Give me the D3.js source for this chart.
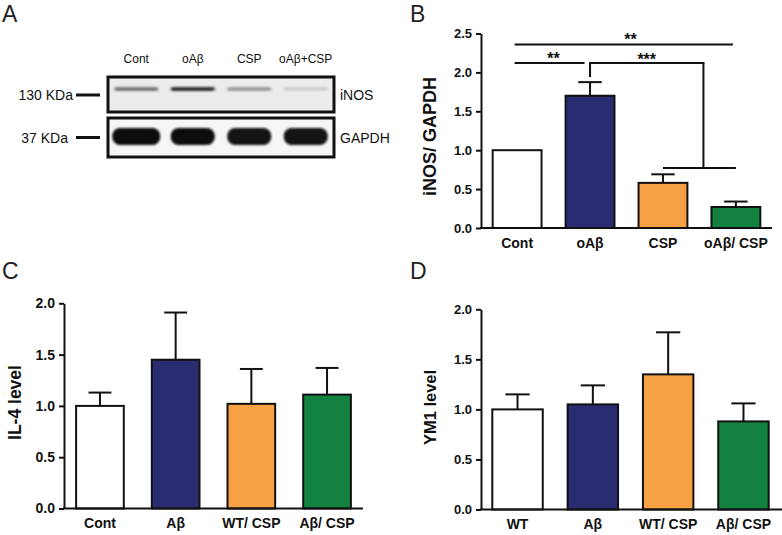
<!DOCTYPE html>
<html>
<head>
<meta charset="utf-8">
<script src="https://cdn.jsdelivr.net/npm/d3@7"></script>
<style>
  html, body { margin: 0; padding: 0; background: #fff; }
  svg { display: block; }
  text { font-family: "Liberation Sans", Arial, sans-serif; fill: #111; }
  .panel-letter { font-family: "Liberation Sans", Arial, sans-serif; font-size: 23px; fill: #222; }
</style>
</head>
<body>
<svg id="chart" width="782" height="535"></svg>
<script>
// ---------------- DATA ----------------
// Panel A (western blot)
const blotLanes = ["Cont", "oAβ", "CSP", "oAβ+CSP"];
const inosIntensity = [0.55, 0.9, 0.38, 0.14];
const gapdhIntensity = [1.0, 1.0, 0.97, 0.97];
const blotMarkers = ["130 KDa", "37 KDa"];
const blotProteins = ["iNOS", "GAPDH"];

// Panel B
const catsB = ["Cont", "oAβ", "CSP", "oAβ/ CSP"];
const meanB = [1.0, 1.70, 0.58, 0.27];
const semB = [0, 0.175, 0.11, 0.07];
const ticksB = [0, 0.5, 1.0, 1.5, 2.0, 2.5];
const titleB = "iNOS/ GAPDH";

// Panel C
const catsC = ["Cont", "Aβ", "WT/ CSP", "Aβ/ CSP"];
const meanC = [1.0, 1.45, 1.02, 1.11];
const semC = [0.13, 0.46, 0.34, 0.26];
const ticksC = [0, 0.5, 1.0, 1.5, 2.0];
const titleC = "IL-4 level";

// Panel D
const catsD = ["WT", "Aβ", "WT/ CSP", "Aβ/ CSP"];
const meanD = [1.0, 1.05, 1.35, 0.88];
const semD = [0.15, 0.19, 0.42, 0.18];
const ticksD = [0, 0.5, 1.0, 1.5, 2.0];
const titleD = "YM1 level";

const barColors = ["#ffffff", "#2a2c72", "#f7a145", "#138140"];

// ---------------- DRAW ----------------
const svg = d3.select("#chart");
const defs = svg.append("defs");
defs.append("filter").attr("id", "blurThin").attr("x", "-20%").attr("y", "-200%").attr("width", "140%").attr("height", "500%")
  .append("feGaussianBlur").attr("stdDeviation", "1.6 0.9");
defs.append("filter").attr("id", "blurThick").attr("x", "-20%").attr("y", "-50%").attr("width", "140%").attr("height", "200%")
  .append("feGaussianBlur").attr("stdDeviation", "1.2");

// Panel letters
[["A", 2, 21.5], ["B", 410, 21.5], ["C", 2, 278.5], ["D", 410, 279]].forEach(([t, x, y]) => {
  svg.append("text").attr("class", "panel-letter").attr("x", x).attr("y", y).text(t);
});

// ---------- Panel A ----------
(function () {
  const g = svg.append("g");
  const lane = d3.scaleBand().domain(blotLanes).range([108, 334]).paddingInner(0).paddingOuter(0);
  const boxes = [
    { top: 77, bottom: 112, fill: "#ececec" },
    { top: 118, bottom: 157, fill: "#f6f6f6" }
  ];
  // lane labels
  g.selectAll(".lane-label").data(blotLanes).join("text")
    .attr("x", d => lane(d) + lane.bandwidth() / 2)
    .attr("y", 63)
    .attr("text-anchor", "middle")
    .attr("font-size", 12)
    .text(d => d);

  boxes.forEach((b, i) => {
    g.append("rect").attr("x", 108).attr("y", b.top).attr("width", 226).attr("height", b.bottom - b.top)
      .attr("fill", b.fill).attr("stroke", "#111").attr("stroke-width", 3);
    const cy = (b.top + b.bottom) / 2;
    g.append("line").attr("x1", 76).attr("x2", 100).attr("y1", i === 0 ? 95 : cy).attr("y2", i === 0 ? 95 : cy)
      .attr("stroke", "#111").attr("stroke-width", 3);
    g.append("text").attr("x", i === 0 ? 73 : 68).attr("y", (i === 0 ? 95 : cy) + 5)
      .attr("text-anchor", "end").attr("font-size", 14).text(blotMarkers[i]);
    g.append("text").attr("x", 340).attr("y", (i === 0 ? 95 : cy) + 5)
      .attr("font-size", 14).text(blotProteins[i]);
  });

  // iNOS bands
  g.selectAll(".inos").data(blotLanes).join("rect")
    .attr("x", d => lane(d) + lane.bandwidth() / 2 - 22)
    .attr("y", 87)
    .attr("width", 44).attr("height", 4).attr("rx", 2)
    .attr("fill", "#1a1a1a")
    .attr("opacity", (d, i) => inosIntensity[i])
    .attr("filter", "url(#blurThin)");

  // GAPDH bands
  g.selectAll(".gapdh").data(blotLanes).join("rect")
    .attr("x", d => lane(d) + lane.bandwidth() / 2 - (d === blotLanes[0] ? 24 : 22))
    .attr("y", 128)
    .attr("width", (d, i) => i === 0 ? 48 : 44).attr("height", 17).attr("rx", 8)
    .attr("fill", "#080808")
    .attr("opacity", (d, i) => gapdhIntensity[i])
    .attr("filter", "url(#blurThick)");
})();

// ---------- Bar panel helper ----------
function barPanel(opt) {
  const g = svg.append("g");
  const x = d3.scaleBand().domain(opt.cats).range([opt.x0, opt.x1])
    .paddingInner(opt.pi).paddingOuter(opt.po);
  const y = d3.scaleLinear().domain([0, opt.ymax]).range([opt.y0, opt.y1]);

  // bars
  g.selectAll(".bar").data(opt.means).join("rect")
    .attr("x", (d, i) => x(opt.cats[i]))
    .attr("y", d => y(d))
    .attr("width", x.bandwidth())
    .attr("height", d => y(0) - y(d))
    .attr("fill", (d, i) => barColors[i])
    .attr("stroke", "#111").attr("stroke-width", 2);

  // error bars (upper)
  const capW = x.bandwidth() * 0.48;
  opt.means.forEach((m, i) => {
    if (!opt.sems[i]) return;
    const cx = x(opt.cats[i]) + x.bandwidth() / 2;
    g.append("line").attr("x1", cx).attr("x2", cx).attr("y1", y(m)).attr("y2", y(m + opt.sems[i]))
      .attr("stroke", "#111").attr("stroke-width", 2);
    g.append("line").attr("x1", cx - capW / 2).attr("x2", cx + capW / 2)
      .attr("y1", y(m + opt.sems[i])).attr("y2", y(m + opt.sems[i]))
      .attr("stroke", "#111").attr("stroke-width", 2);
  });

  // y axis
  const ya = g.append("g").attr("transform", `translate(${opt.x0},0)`)
    .call(d3.axisLeft(y).tickValues(opt.ticks).tickFormat(d3.format(".1f")).tickSize(5).tickPadding(4).tickSizeOuter(0));
  ya.select(".domain").attr("stroke", "#111").attr("stroke-width", 2);
  ya.selectAll(".tick line").attr("stroke", "#111").attr("stroke-width", 2);
  ya.selectAll(".tick text").attr("font-size", opt.tickFont).attr("font-weight", "bold")
    .attr("font-family", "Liberation Sans, Arial, sans-serif").attr("fill", "#111");

  // x axis
  const xa = g.append("g").attr("transform", `translate(0,${opt.y0})`)
    .call(d3.axisBottom(x).tickSize(0).tickPadding(10).tickSizeOuter(0));
  xa.select(".domain").remove();
  g.append("line").attr("x1", opt.x0 - 1).attr("x2", opt.xEnd).attr("y1", opt.y0).attr("y2", opt.y0)
    .attr("stroke", "#111").attr("stroke-width", 2);
  xa.selectAll(".tick text").attr("font-size", 14).attr("font-weight", "bold")
    .attr("font-family", "Liberation Sans, Arial, sans-serif").attr("fill", "#111");

  // y title
  g.append("text")
    .attr("transform", `translate(${opt.titleX},${opt.titleY}) rotate(-90)`)
    .attr("text-anchor", "middle").attr("dy", "0.35em")
    .attr("font-size", opt.titleFont).attr("font-weight", "bold")
    .text(opt.title);

  return { g, x, y };
}

// ---------- Panel B ----------
const B = barPanel({
  cats: catsB, means: meanB, sems: semB, ticks: ticksB, ymax: 2.5,
  x0: 481, x1: 772, xEnd: 772, pi: 0.33, po: 0.16,
  y0: 228, y1: 33.5, tickFont: 13, title: titleB, titleX: 430, titleY: 136.5, titleFont: 18
});
(function () {
  const { g, x, y } = B;
  const c = i => x(catsB[i]) + x.bandwidth() / 2;
  const ln = (x1, y1, x2, y2) => g.append("line").attr("x1", x1).attr("y1", y1).attr("x2", x2).attr("y2", y2)
    .attr("stroke", "#111").attr("stroke-width", 2);
  const star = (t, xx, yy) => g.append("text").attr("x", xx).attr("y", yy).attr("text-anchor", "middle")
    .attr("font-size", 16).attr("font-weight", "bold").text(t);
  // Cont vs oAβ/CSP
  ln(c(0) - 2.5, y(2.36), c(3) - 3, y(2.36));
  star("**", (c(0) + c(3)) / 2 + 4, y(2.36) + 1);
  // Cont vs oAβ
  ln(c(0) - 2.5, y(2.12), c(1) - 5.5, y(2.12));
  star("**", (c(0) + c(1)) / 2, y(2.12) + 1);
  // oAβ vs CSP groups (bracket)
  const xm = (c(2) + c(3)) / 2 + 4;
  ln(c(1), y(1.94), c(1), y(2.12));
  ln(c(1) - 1, y(2.12), xm + 1, y(2.12));
  ln(xm, y(2.12), xm, y(0.77));
  ln(c(2), y(0.77), c(3), y(0.77));
  star("***", (c(1) + xm) / 2, y(2.12) + 2);
})();

// ---------- Panel C ----------
barPanel({
  cats: catsC, means: meanC, sems: semC, ticks: ticksC, ymax: 2,
  x0: 64, x1: 363, xEnd: 363, pi: 0.37, po: 0.16,
  y0: 508.5, y1: 303.3, tickFont: 14, title: titleC, titleX: 15, titleY: 402.5, titleFont: 17.5
});

// ---------- Panel D ----------
barPanel({
  cats: catsD, means: meanD, sems: semD, ticks: ticksD, ymax: 2,
  x0: 481, x1: 780, xEnd: 782, pi: 0.33, po: 0.15,
  y0: 509.5, y1: 309.3, tickFont: 13, title: titleD, titleX: 430, titleY: 407.5, titleFont: 16.5
});
</script>
</body>
</html>
